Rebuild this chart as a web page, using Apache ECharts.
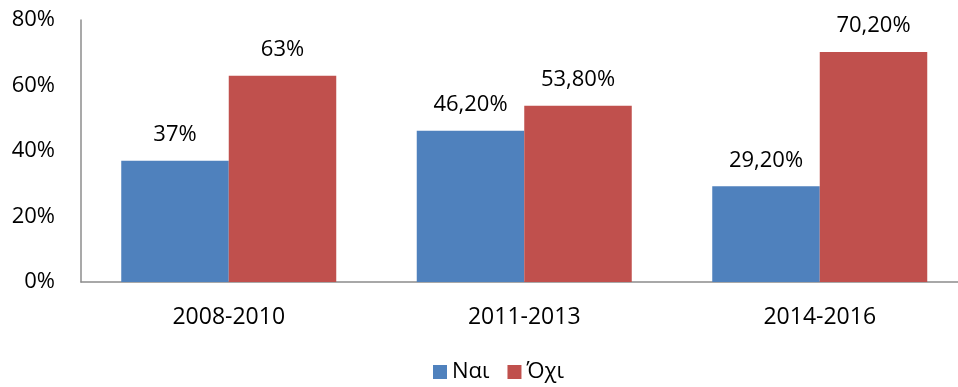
<!DOCTYPE html>
<html>
<head>
<meta charset="utf-8">
<script src="https://cdn.jsdelivr.net/npm/echarts@6/dist/echarts.min.js"></script>
<style>
  html, body { margin: 0; padding: 0; background: #fff; overflow: hidden; }
  /* the plot's last category band runs a little past the visible right edge */
  #chart { width: 968px; height: 387px; }
</style>
</head>
<body>
<div id="chart"></div>
<script>
// Periods and the share of answers per period (percent)
const periods = ['2008-2010', '2011-2013', '2014-2016'];
const yesValues = [37, 46.2, 29.2];
const noValues = [63, 53.8, 70.2];
const seriesNames = ['Ναι', 'Όχι'];
const yTicks = [0, 20, 40, 60, 80];

const FONT = '"Open Sans", sans-serif';
const fmtPct = v => (Number.isInteger(v) ? String(v) : v.toFixed(2).replace('.', ',')) + '%';

const chart = echarts.init(document.getElementById('chart'), null, { renderer: 'canvas' });

const labelCfg = {
  show: true,
  position: 'top',
  distance: 15,
  color: '#000',
  fontFamily: FONT,
  fontSize: 22,
  formatter: p => fmtPct(p.value)
};

chart.setOption({
  animation: false,
  textStyle: { fontFamily: FONT },
  grid: { left: 81, right: 0.5, top: 20, bottom: 105, containLabel: false },
  legend: {
    data: seriesNames,
    top: 356,
    left: 428,
    itemWidth: 14,
    itemHeight: 14,
    itemGap: 18,
    icon: 'rect',
    textStyle: { fontFamily: FONT, fontSize: 22, color: '#000' }
  },
  xAxis: {
    type: 'category',
    data: periods,
    axisLine: { lineStyle: { color: '#8c8c8c', width: 1.5 } },
    axisTick: { show: false },
    axisLabel: { color: '#000', fontSize: 23, fontFamily: FONT, margin: 24 }
  },
  yAxis: {
    type: 'value',
    min: yTicks[0],
    max: yTicks[yTicks.length - 1],
    interval: 20,
    axisLine: { show: true, lineStyle: { color: '#8c8c8c', width: 1.5 } },
    axisTick: { show: false },
    splitLine: { show: false },
    axisLabel: { color: '#000', fontSize: 22, fontFamily: FONT, margin: 26, formatter: '{value}%' }
  },
  series: [
    {
      name: seriesNames[0],
      type: 'bar',
      data: yesValues,
      barWidth: 107.5,
      barGap: '0%',
      itemStyle: { color: '#4F81BD' },
      label: labelCfg
    },
    {
      name: seriesNames[1],
      type: 'bar',
      data: noValues,
      barWidth: 107.5,
      barGap: '0%',
      itemStyle: { color: '#C0504D' },
      label: labelCfg
    }
  ]
});
</script>
</body>
</html>
